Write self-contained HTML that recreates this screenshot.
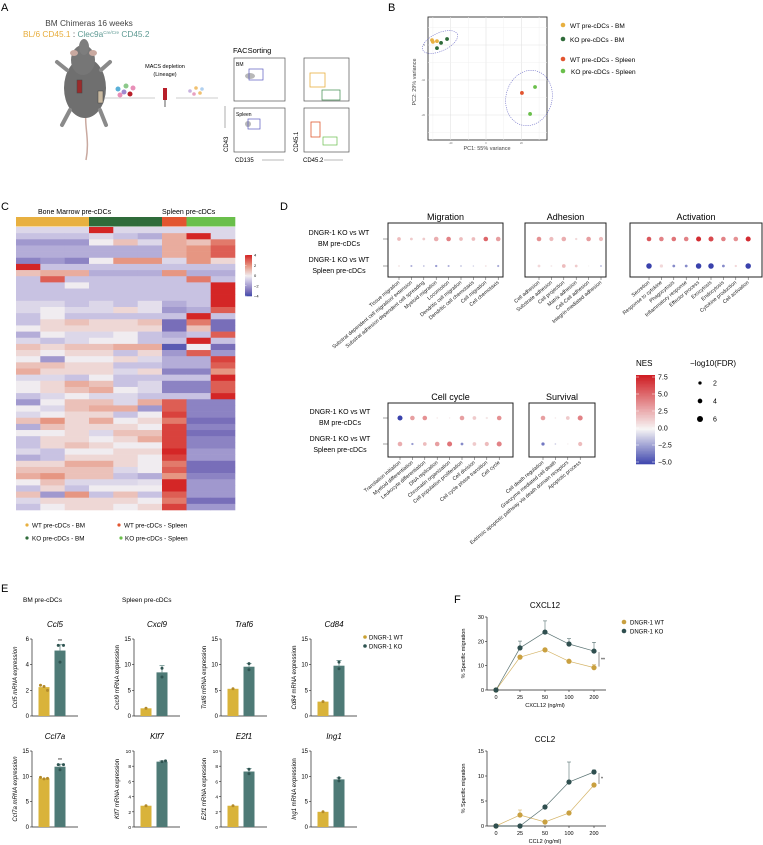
<!DOCTYPE html>
<html><head><meta charset="utf-8"><style>
html,body{margin:0;padding:0;background:#fff}
svg{display:block;font-family:"Liberation Sans",Arial,sans-serif}
</style></head><body>
<svg id="fig" width="763" height="845" viewBox="0 0 763 845" xmlns="http://www.w3.org/2000/svg">
<text x="1" y="11" font-size="11">A</text>
<text x="388" y="11" font-size="11">B</text>
<text x="1" y="210" font-size="11">C</text>
<text x="280" y="210" font-size="11">D</text>
<text x="1" y="592" font-size="11">E</text>
<text x="454" y="603" font-size="11">F</text>

<g>
<text x="89" y="26" font-size="8.3" text-anchor="middle" fill="#444">BM Chimeras 16 weeks</text>
<text x="23" y="37" font-size="8.3"><tspan fill="#e7ad3c">BL/6 CD45.1</tspan><tspan fill="#333"> : </tspan><tspan fill="#5e9a93">Clec9a</tspan><tspan fill="#5e9a93" font-size="4.5" dy="-3">Cre/Cre</tspan><tspan fill="#5e9a93" dy="3"> CD45.2</tspan></text>
<g>
<path d="M86 160 C 90 140, 84 125, 86 112" stroke="#c9a9a0" stroke-width="1.5" fill="none"/>
<ellipse cx="85" cy="88" rx="21" ry="30" fill="#6f6f6f"/>
<ellipse cx="83" cy="60" rx="12" ry="15" fill="#767676"/>
<ellipse cx="84" cy="47" rx="5" ry="8" fill="#7d7d7d"/>
<ellipse cx="74" cy="53" rx="4" ry="3" fill="#c9a9a0"/>
<ellipse cx="93" cy="53" rx="4" ry="3" fill="#c9a9a0"/>
<path d="M67 70 L57 62 M101 70 L110 62 M70 110 L62 125 M100 110 L106 125" stroke="#8a8a8a" stroke-width="4" stroke-linecap="round"/>
<rect x="77" y="80" width="5" height="13" fill="#9a2b2b" stroke="#444" stroke-width="0.5"/>
<rect x="98" y="91" width="5" height="12" fill="#c9b9a0" stroke="#444" stroke-width="0.5"/>
</g>
<g>
<circle cx="118" cy="89" r="2.5" fill="#5ab0d8"/><circle cx="126" cy="86" r="2.5" fill="#8cc98a"/><circle cx="133" cy="88" r="2.5" fill="#e88fb8"/>
<circle cx="120" cy="95" r="2.5" fill="#e88fb8"/><circle cx="124" cy="92" r="2.5" fill="#a08ad0"/><circle cx="130" cy="94" r="2.5" fill="#b81f2a"/>
</g>
<line x1="104" y1="98" x2="155" y2="98" stroke="#999" stroke-width="0.6"/>
<text x="165" y="68" font-size="5.5" text-anchor="middle">MACS depletion</text>
<text x="165" y="76" font-size="5.5" text-anchor="middle">(Lineage)</text>
<rect x="163" y="88" width="4" height="12" fill="#b81f2a"/>
<line x1="165" y1="100" x2="165" y2="107" stroke="#333" stroke-width="0.8"/>
<g>
<circle cx="190" cy="91" r="1.8" fill="#c9b3e0"/><circle cx="196" cy="88" r="1.8" fill="#f0c070"/><circle cx="202" cy="89" r="1.8" fill="#b0d0f0"/><circle cx="194" cy="94" r="1.8" fill="#e8a0c0"/><circle cx="200" cy="93" r="1.8" fill="#f0c070"/>
</g>
<line x1="176" y1="98" x2="218" y2="98" stroke="#999" stroke-width="0.6"/>
<text x="233" y="53" font-size="7.5">FACSorting</text>
<rect x="234" y="58" width="51" height="43" fill="#fff" stroke="#555" stroke-width="0.7"/>
<text x="236" y="66" font-size="5">BM</text>
<ellipse cx="250" cy="76" rx="5" ry="3" fill="#888" opacity="0.6"/>
<rect x="249" y="69" width="14" height="11" fill="none" stroke="#5b5bc0" stroke-width="0.7"/>
<rect x="234" y="108" width="51" height="44" fill="#fff" stroke="#555" stroke-width="0.7"/>
<text x="236" y="116" font-size="5">Spleen</text>
<ellipse cx="248" cy="124" rx="3" ry="3" fill="#888" opacity="0.6"/>
<rect x="248" y="119" width="12" height="10" fill="none" stroke="#5b5bc0" stroke-width="0.7"/>
<rect x="304" y="58" width="45" height="43" fill="#fff" stroke="#555" stroke-width="0.7"/>
<rect x="310" y="73" width="15" height="14" fill="none" stroke="#e8b040" stroke-width="0.8"/>
<rect x="322" y="90" width="18" height="10" fill="none" stroke="#3b8a4a" stroke-width="0.7"/>
<rect x="304" y="108" width="45" height="44" fill="#fff" stroke="#555" stroke-width="0.7"/>
<rect x="311" y="122" width="9" height="15" fill="none" stroke="#e05a30" stroke-width="0.8"/>
<rect x="323" y="137" width="14" height="8" fill="none" stroke="#6abf4b" stroke-width="0.7"/>
<text transform="translate(228,152) rotate(-90)" font-size="6">CD43</text>
<line x1="225" y1="128" x2="225" y2="106" stroke="#777" stroke-width="0.6"/>
<text x="235" y="162" font-size="6">CD135</text>
<line x1="262" y1="160" x2="284" y2="160" stroke="#777" stroke-width="0.6"/>
<text transform="translate(298,152) rotate(-90)" font-size="6">CD45.1</text>
<text x="303" y="162" font-size="6">CD45.2</text>
<line x1="324" y1="160" x2="343" y2="160" stroke="#777" stroke-width="0.6"/>
</g>

<g id="pca"></g>
<g>
<circle cx="563" cy="25" r="2.3" fill="#e8b040"/><text x="570" y="28" font-size="6.5">WT pre-cDCs - BM</text>
<circle cx="563" cy="39" r="2.3" fill="#2f6b3a"/><text x="570" y="42" font-size="6.5">KO pre-cDCs - BM</text>
<circle cx="563" cy="59" r="2.3" fill="#e25530"/><text x="570" y="62" font-size="6.5">WT pre-cDCs - Spleen</text>
<circle cx="563" cy="71" r="2.3" fill="#6abf4b"/><text x="571" y="74" font-size="6.5">KO pre-cDCs - Spleen</text>
</g>

<g id="heat"></g>
<text x="38" y="214" font-size="7">Bone Marrow pre-cDCs</text>
<text x="162" y="214" font-size="7">Spleen pre-cDCs</text>
<g>
<circle cx="27" cy="525" r="1.6" fill="#e8b040"/><text x="32" y="527.5" font-size="6.3">WT pre-cDCs - BM</text>
<circle cx="27" cy="538" r="1.6" fill="#2f6b3a"/><text x="32" y="540.5" font-size="6.3">KO pre-cDCs - BM</text>
<circle cx="119" cy="525" r="1.6" fill="#e25530"/><text x="124" y="527.5" font-size="6.3">WT pre-cDCs - Spleen</text>
<circle cx="121" cy="538" r="1.6" fill="#6abf4b"/><text x="125" y="540.5" font-size="6.3">KO pre-cDCs - Spleen</text>
</g>

<g id="gsea"></g>

<text x="23" y="602" font-size="6.5">BM pre-cDCs</text>
<text x="122" y="602" font-size="6.5">Spleen pre-cDCs</text>
<g id="bars"></g>
<g>
<circle cx="365" cy="637" r="1.8" fill="#c9a030"/><text x="369" y="639.5" font-size="6">DNGR-1 WT</text>
<circle cx="365" cy="646" r="1.8" fill="#2f5451"/><text x="369" y="648.5" font-size="6">DNGR-1 KO</text>
</g>

<g id="lines"></g>
<g>
<circle cx="624" cy="622" r="2.3" fill="#c9a040"/><text x="630" y="624.5" font-size="6">DNGR-1 WT</text>
<circle cx="624" cy="631" r="2.3" fill="#2f4f4f"/><text x="630" y="633.5" font-size="6">DNGR-1 KO</text>
</g>
</svg>
<script>
// ---------- DATA ----------
const pcaGroups = ['WT BM','WT BM','WT BM','KO BM','KO BM','KO BM','WT Spleen','KO Spleen','KO Spleen'];
const pc1Values = [-30.5,-30,-27.7,-25.4,-22,-27.7,20.3,27.7,24.9];
const pc2Values = [1.4,0.9,1.1,0.6,1.7,-0.9,-13.7,-12,-19.7];
const pc1Ticks = [-20,0,20];
const pc2Ticks = [0,-10,-20];
const heatRows = [
[-0.5,-0.5,-0.5,4,-0.5,-0.5,-0.5,-0.5,-0.5],
[-1,-1,-1,-0.5,-1,-1.5,1.5,4,-0.5],
[-2,-2,-2,0,1,-0.5,1.5,1,2.5],
[-1.5,-1.5,-1.5,-1.5,-1.5,-1.5,1.5,2,3],
[-1.5,-1.5,-1.5,-1.5,-1.5,-1.5,1.5,2,3],
[-2.5,-2,-2.5,0,2,2,-0.5,2,0.5],
[4,-1,-1,-1,-1,-1,-1,-1,-1],
[1,1.5,1.5,-1.5,-1.5,-1.5,2,-1.5,-1.5],
[-1,3,-1,-1,-1,-1,-1,2.5,-1],
[-1,-1,0,-1,-1,-1,-1,-1,4],
[-1,-1,-1,-1,-1,-1,-1,-1,4],
[-1,-1,-1,-1,-1,-1,-1,-1,4],
[-0.5,-0.5,-1,-0.5,-1,-0.3,-1.5,-1,4],
[-0.5,0,-0.5,-0.5,0.5,-0.3,-2,-1.5,3],
[-1,0,-1,-1,-1,-1,-1,4,-1],
[-1,0.5,1,0.5,0.5,1,-3,2.5,-3],
[0,0.5,0.5,0.5,0.5,0.5,-3,1,-3],
[-1.5,0,-0.5,-0.5,0,-1,-1.5,-1,3],
[-0.5,-1,-0.5,0,0,-1,-1,4,-1],
[1,0.5,1,1,1.5,1.5,-3.5,0,-3],
[0.5,0,0.5,0.5,-1,0.5,-2,3,-2],
[0,-2,0,0,0.5,-0.5,-1.5,-1.5,3.5],
[1,1,0.5,0.5,-1,-1,-1.5,-1.5,3],
[1.5,0.5,0.5,0.5,-0.5,0.5,-2.5,-2.5,2],
[-0.5,-0.5,-1,0,-1,-1,-1,-1,4],
[0,0.5,1.5,1,-1,-0.5,-2.5,-2.5,3],
[0,0.5,1,1.5,0,-0.5,-2.5,-2.5,3],
[-1,-0.5,0,-0.5,-0.5,-1,-1,-1,4],
[-2,0,1,1,-0.5,1.5,3,-2.5,-2.5],
[0,-0.5,1,1.5,1.5,-2,3,-2.5,-2.5],
[-0.5,0,0.5,0.5,-1,0,3.5,-2.5,-2.5],
[1,2,0.5,1.5,0,0.5,2.5,-3,-3],
[-1.5,1,0.5,0.5,0.5,0,3.5,-2.5,-2.5],
[0,0,0.5,-0.5,1,1,3.5,-3,-3],
[-1,0.5,0.5,0,0.5,1.5,3.5,-2.5,-2.5],
[-1,0.5,1,0.5,0,0,3.5,-2.5,-2.5],
[-0.5,-1,0,0,0.5,0.5,4,-2,-2],
[-1.5,-1,0.5,0.5,0.5,0,3.5,-2,-2],
[0.5,0.5,1.5,1.5,0.5,0,2.5,-3,-3],
[1,1,1,1,-0.5,0,3,-3,-3],
[1.5,2,1,1,-1,-1.5,2,-2.5,-2.5],
[0,1,-0.5,-0.5,-0.5,-0.3,4,-2,-2],
[-1,0.5,-1,0,0,0,4,-2,-2],
[1,-2,2,-1,1,-1,3,-2,-2],
[-0.5,0.5,0.5,0.5,0.5,0,2.5,-3,-3],
[-1,0,0.5,0.5,0,0.5,3.5,-2,-2]
];
const heatSampleGroups = ['WT BM','WT BM','WT BM','KO BM','KO BM','KO BM','WT Spleen','KO Spleen','KO Spleen'];
const heatLegendTicks = [4,2,0,-2,-4];
const migTerms = ['Tissue migration','Substrat dependent cell migration/ extension','Substrat adhesion dependent cell spreading','Myeloid migration','Locomotion','Dendritic cell migration','Dendritic cell chemotaxis','Cell migration','Cell chemotaxis'];
const migNesBM = [2,1.5,1.5,2.5,4,2,2,5,3];
const migFdrBM = [3,2,2,4,4,3,3,4,4];
const migNesSp = [0.5,-2,-1.5,-2.5,-2,-1.5,-1,0.5,-2];
const migFdrSp = [1,1.2,0.8,1.5,1.2,0.8,0.6,1,1.3];
const adhTerms = ['Cell adhesion','Substrate adhesion','Cell projection','Matrix adhesion','Cell-Cell adhesion','Integrin-mediated adhesion'];
const adhNesBM = [3.5,2,2.5,1,3,2];
const adhFdrBM = [4,3.5,4,1.5,4,3.5];
const adhNesSp = [1,0.3,2,1.5,0,-2];
const adhFdrSp = [2,1,3,2,0.5,0.8];
const actTerms = ['Secretion','Response to cytokine','Phagocytosis','Inflammatory response','Effector process','Exocytosis','Endocytosis','Cytokine production','Cell activation'];
const actNesBM = [5.5,4,4.5,4,7,6,4,3.5,7];
const actFdrBM = [4,4,4,4,4.5,4.5,4,4,4.5];
const actNesSp = [-5,1,-3,-3,-5,-5,-3,1,-5];
const actFdrSp = [5,2.5,2,2,5,5,2,1.5,5];
const ccTerms = ['Translation initiation','Myeloid differentiation','Leukocyte differentiation','DNA replication','Chromatin organization','Cell population proliferation','Cell division','Cell cycle phase transition','Cell cycle'];
const ccNesBM = [-5,3,3.5,0.5,0.3,3,1.5,0.5,3.5];
const ccFdrBM = [4.5,4,4,0.5,0.5,4,3,1.5,4];
const ccNesSp = [2.5,-2.5,2,3,4.5,-3,1.5,2,4];
const ccFdrSp = [4,1.5,3,4,4.5,2,3,3.5,4.5];
const survTerms = ['Cell death regulation','Granzyme mediated cell death','Extrinsic apoptotic pathway via death domain receptors','Apoptotic process'];
const survNesBM = [3,0.3,1.5,4];
const survFdrBM = [4,0.7,3,4.5];
const survNesSp = [-3.5,-1,0.2,2];
const survFdrSp = [2.5,0.8,0.5,3.5];
const nesTicks = [7.5,5.0,2.5,0.0,-2.5,-5.0];
const fdrTicks = [2,4,6];
const genes = ['Ccl5','Cxcl9','Traf6','Cd84','Ccl7a','Klf7','E2f1','Ing1'];
const wtMeans = [2.25,1.5,5.3,2.8,9.6,2.8,2.8,3.0];
const koMeans = [5.1,8.5,9.6,9.8,11.9,8.6,7.3,9.4];
const wtPoints = [[2.4,2.3,2.0],[1.5],[5.3],[2.8],[9.8,9.5,9.6],[2.8],[2.8],[3.0]];
const koPoints = [[5.5,5.5,4.2],[9.3,7.6],[10.2,9.0],[10.5,9.2],[12.3,12.3,11.3],[8.6,8.7],[7.6,7.0],[9.7,9.1]];
const koErr = [0.45,1.3,0.6,1.0,0.5,0.1,0.4,0.3];
const yAxisMax = [6,15,15,15,15,10,10,15];
const yTickStep = [2,5,5,5,5,2,2,5];
const sigMarks = ['**','','','','**','','',''];
const doseLabels = ['0','25','50','100','200'];
const cxcl12WT = [0,13.5,16.5,11.8,9.2];
const cxcl12KO = [0,17.3,23.8,18.9,16];
const cxcl12KOErr = [0,2.8,4.6,2.2,3.6];
const cxcl12WTErr = [0,0,0,0,1.2];
const cxcl12Ticks = [0,10,20,30];
const ccl2WT = [0,2.2,0.8,2.6,8.2];
const ccl2KO = [0,0,3.8,8.8,10.8];
const ccl2KOErr = [0,0,0,4.0,0.4];
const ccl2WTErr = [0,1.0,0,0,0];
const ccl2Ticks = [0,5,10,15];

// ---------- HELPERS ----------
const NS='http://www.w3.org/2000/svg';
function mk(tag, attrs, parent){const e=document.createElementNS(NS,tag);for(const k in attrs)e.setAttribute(k,attrs[k]);if(parent)parent.appendChild(e);return e;}
function txt(parent,x,y,s,size,anchor,extra){const e=mk('text',Object.assign({x:x,y:y,'font-size':size,'text-anchor':anchor||'start'},extra||{}),parent);e.textContent=s;return e;}
function lerp(a,b,t){return a.map((v,i)=>Math.round(v+(b[i]-v)*t));}
function rgb(c){return 'rgb('+c.join(',')+')';}
function heatColor(v){
 const t=Math.max(-4,Math.min(4,v));
 if(t>=0){const w=[240,236,240],m=[230,150,130],r=[212,38,38];return t<=2?rgb(lerp(w,m,t/2)):rgb(lerp(m,r,(t-2)/2));}
 const w=[240,236,240],m=[200,194,226],d=[120,110,185],b=[60,70,170];
 const a=-t;
 if(a<=1)return rgb(lerp(w,m,a));
 if(a<=3)return rgb(lerp(m,d,(a-1)/2));
 return rgb(lerp(d,b,a-3));
}
function nesColor(v){const w=[247,245,245],r=[208,30,36],b=[58,66,172];return v>=0?rgb(lerp(w,r,Math.min(1,v/7.5))):rgb(lerp(w,b,Math.min(1,-v/5)));}
function fdrR(f){return 0.5+0.45*f;}

// ---------- PANEL B ----------
(function(){
const g=document.getElementById('pca');
const L=428,R=547,T=17,B=140;
const xS=v=>486+v*1.77, yS=v=>45-v*3.5;
const bg=mk('rect',{x:L,y:T,width:R-L,height:B-T,fill:'#fff',stroke:'#333','stroke-width':0.9},g);


[-30,-10,10,30].forEach(v=>mk('line',{x1:xS(v),x2:xS(v),y1:T,y2:B,stroke:'#f0f0f0','stroke-width':0.5},g));
pc1Ticks.forEach(v=>{mk('line',{x1:xS(v),x2:xS(v),y1:T,y2:B,stroke:'#e2e2e2','stroke-width':0.6},g);
 const t=txt(g,xS(v),B+4,String(v),2.5,'middle',{fill:'#666'});
 
 });
pc2Ticks.forEach(v=>{mk('line',{x1:L,x2:R,y1:yS(v),y2:yS(v),stroke:'#e2e2e2','stroke-width':0.6},g);
 const t=txt(g,L-3,yS(v)+1,String(v),2.5,'end',{fill:'#666'});
 
 });
[5,-5,-15,-25].forEach(v=>mk('line',{x1:L,x2:R,y1:yS(v),y2:yS(v),stroke:'#f0f0f0','stroke-width':0.5},g));
const e1=mk('ellipse',{cx:440,cy:42,rx:19,ry:9,transform:'rotate(-25 440 42)',fill:'none',stroke:'#7070c8','stroke-width':0.6,'stroke-dasharray':'1.2 1'},g);


const e2=mk('ellipse',{cx:529,cy:98,rx:23,ry:28,transform:'rotate(15 529 98)',fill:'none',stroke:'#7070c8','stroke-width':0.6,'stroke-dasharray':'1.2 1'},g);


const col={'WT BM':'#e8b040','KO BM':'#2f6b3a','WT Spleen':'#e25530','KO Spleen':'#6abf4b'};
pc1Values.forEach((v,i)=>{const c=mk('circle',{cx:xS(v),cy:yS(pc2Values[i]),r:1.9,fill:col[pcaGroups[i]]},g);
 
 });
const xl=txt(g,487,150,'PC1: 55% variance',5.5,'middle',{fill:'#444'});


const yl=txt(g,0,0,'PC2: 29% variance',5.5,'middle',{fill:'#444',transform:'translate(416,82) rotate(-90)'});


})();

// ---------- PANEL C ----------
(function(){
const g=document.getElementById('heat');
const colX=[16,40.3,64.7,89,113.3,137.7,162,186.5,210.7,235];
const top=227, bottom=510, rh=(bottom-top)/heatRows.length;
const annCol={'WT BM':'#e8b040','KO BM':'#2f6b3a','WT Spleen':'#e25530','KO Spleen':'#6abf4b'};
heatSampleGroups.forEach((s,j)=>{const r=mk('rect',{x:colX[j],y:217,width:colX[j+1]-colX[j]+0.3,height:9.5,fill:annCol[s]},g);
 
 });
heatRows.forEach((row,i)=>row.forEach((v,j)=>{const r=mk('rect',{x:colX[j],y:top+i*rh,width:colX[j+1]-colX[j]+0.3,height:rh+0.3,fill:heatColor(v)},g);
 
 }));
const lg=mk('g',{},g);


const cT=255,cB=296;
for(let k=0;k<40;k++){const v=4-8*k/40;mk('rect',{x:245,y:cT+k*(cB-cT)/40,width:7,height:(cB-cT)/40+0.3,fill:heatColor(v)},lg);}
heatLegendTicks.forEach(v=>{const y=cT+(4-v)/8*(cB-cT);mk('line',{x1:245,x2:246.5,y1:y,y2:y,stroke:'#fff','stroke-width':0.4},lg);
 const t=txt(lg,254,y+1.5,v<0?'\u2212'+(-v):String(v),4,'start');
 
 });
})();

// ---------- PANEL D ----------
(function(){
const g=document.getElementById('gsea');
function panel(name,title,box,dotsX,terms,nesA,fdrA,nesB,fdrB,rowY){
 const pg=mk('g',{},g);
 
 
 const r=mk('rect',{x:box[0],y:box[1],width:box[2]-box[0],height:box[3]-box[1],fill:'#fff',stroke:'#222','stroke-width':1},pg);
 
 
 const t=txt(pg,(box[0]+box[2])/2,box[1]-3,title,9,'middle');
 
 
 terms.forEach((term,i)=>{const x=dotsX[i];
  mk('line',{x1:x,x2:x,y1:box[3],y2:box[3]+3,stroke:'#444','stroke-width':0.5},pg);
  const l=txt(pg,0,0,term,5.2,'end',{fill:'#222',transform:'translate('+(x+1)+','+(box[3]+6)+') rotate(-40)'});
  
  
  const c1=mk('circle',{cx:x,cy:rowY[0],r:fdrR(fdrA[i]),fill:nesColor(nesA[i])},pg);
  
  
  const c2=mk('circle',{cx:x,cy:rowY[1],r:fdrR(fdrB[i]),fill:nesColor(nesB[i])},pg);
  
  });
}
function idx(n,x0,dx){return Array.from({length:n},(_,i)=>x0+i*dx);}
panel('migration','Migration',[388,223,503,277],idx(9,399,12.4),migTerms,migNesBM,migFdrBM,migNesSp,migFdrSp,[239,266]);
panel('adhesion','Adhesion',[525,223,606,277],idx(6,539,12.4),adhTerms,adhNesBM,adhFdrBM,adhNesSp,adhFdrSp,[239,266]);
panel('activation','Activation',[630,223,762,277],idx(9,649,12.4),actTerms,actNesBM,actFdrBM,actNesSp,actFdrSp,[239,266]);
panel('cell-cycle','Cell cycle',[388,403,513,457],idx(9,400,12.4),ccTerms,ccNesBM,ccFdrBM,ccNesSp,ccFdrSp,[418,444]);
panel('survival','Survival',[529,403,595,457],idx(4,543,12.4),survTerms,survNesBM,survFdrBM,survNesSp,survFdrSp,[418,444]);
function rowLabels(y1,y2,tickY,x){
 [[y1,'DNGR-1 KO vs WT'],[y1+11,'BM pre-cDCs'],[y2,'DNGR-1 KO vs WT'],[y2+11,'Spleen pre-cDCs']].forEach(p=>{const t=txt(g,x,p[0],p[1],7,'middle');
  
  });
 tickY.forEach(y=>mk('line',{x1:383,x2:388,y1:y,y2:y,stroke:'#444','stroke-width':0.5},g));
}
rowLabels(235,262,[239,266],339);
rowLabels(414,441,[418,444],340);
const lg=mk('g',{},g);


txt(lg,636,366,'NES',8,'start');
const cT=375,cB=464;
for(let k=0;k<60;k++){const v=7.5-12.5*k/60;mk('rect',{x:636,y:cT+k*(cB-cT)/60,width:19,height:(cB-cT)/60+0.3,fill:nesColor(v)},lg);}
nesTicks.forEach(v=>{const y=cT+2+(7.5-v)/12.5*(cB-cT-4);mk('line',{x1:636,x2:639,y1:y,y2:y,stroke:'#fff','stroke-width':0.5},lg);mk('line',{x1:652,x2:655,y1:y,y2:y,stroke:'#fff','stroke-width':0.5},lg);
 const t=txt(lg,658,y+2.5,(v<0?'\u2212':'')+Math.abs(v).toFixed(1),7,'start');
 
 });
const sg=mk('g',{},g);


txt(sg,690,366,'\u2212log10(FDR)',8,'start');
fdrTicks.forEach((v,i)=>{const y=383+i*18;mk('circle',{cx:700,cy:y,r:fdrR(v)*0.75+0.6,fill:'#000'},sg);
 const t=txt(sg,713,y+2.5,String(v),7,'start');
 
 });
})();

// ---------- PANEL E ----------
(function(){
const g=document.getElementById('bars');
const axisX=[32,134,221,311,32,134,221,311];
const axTop=[639,639,639,639,751,751,751,751];
const axBot=[716,716,716,716,827,827,827,827];
genes.forEach((gene,i)=>{
 const cg=mk('g',{},g);
 
 
 const x0=axisX[i],yT=axTop[i],yB=axBot[i];
 const y=v=>yB-v/yAxisMax[i]*(yB-yT);
 const t=txt(cg,x0+23,yT-12,gene,8,'middle',{'font-style':'italic'});
 
 
 mk('line',{x1:x0,x2:x0,y1:yT,y2:yB,stroke:'#222','stroke-width':0.7},cg);
 mk('line',{x1:x0,x2:x0+46,y1:yB,y2:yB,stroke:'#222','stroke-width':0.7},cg);
 for(let v=0;v<=yAxisMax[i]+1e-9;v+=yTickStep[i]){mk('line',{x1:x0-2,x2:x0,y1:y(v),y2:y(v),stroke:'#222','stroke-width':0.6},cg);
  const tl=txt(cg,x0-3,y(v)+2,String(v),yAxisMax[i]===10?4.8:6,'end');
  
  }
 const yl=mk('text',{'font-size':6,'text-anchor':'middle',transform:'translate('+(x0-15)+','+((yT+yB)/2)+') rotate(-90)'},cg);
 
 
 const ts=mk('tspan',{'font-style':'italic'},yl);ts.textContent=gene;
 const ts2=mk('tspan',{'font-style':i===0||i===4?'italic':'normal'},yl);ts2.textContent=' mRNA expression';
 const wx=x0+12,kx=x0+28,bw=11;
 const b1=mk('rect',{x:wx-bw/2,y:y(wtMeans[i]),width:bw,height:yB-y(wtMeans[i]),fill:'#d9b33a'},cg);
 
 
 const b2=mk('rect',{x:kx-bw/2,y:y(koMeans[i]),width:bw,height:yB-y(koMeans[i]),fill:'#4e7a76'},cg);
 
 
 const eTop=y(koMeans[i]+koErr[i]);
 mk('line',{x1:kx,x2:kx,y1:y(koMeans[i]),y2:eTop,stroke:'#4e7a76','stroke-width':0.7},cg);
 mk('line',{x1:kx-2.5,x2:kx+2.5,y1:eTop,y2:eTop,stroke:'#4e7a76','stroke-width':0.7},cg);
 wtPoints[i].forEach((v,k)=>{const n=wtPoints[i].length;const dx=n>1?(k-(n-1)/2)*3.5:0;const c=mk('circle',{cx:wx+dx,cy:y(v),r:1.5,fill:'#b38a2a'},cg);
  
  });
 koPoints[i].forEach((v,k)=>{const n=koPoints[i].length;const dx=n>1&&Math.abs(koPoints[i][0]-v)<0.3&&k>0?3.5:(n===3&&k<2?(k-0.5)*3.5:0);const c=mk('circle',{cx:kx+dx,cy:y(v),r:1.5,fill:'#2f5451'},cg);
  
  });
 if(sigMarks[i]){const s=txt(cg,kx,eTop-2,sigMarks[i],5,'middle');
  
  }
});
})();

// ---------- PANEL F ----------
(function(){
const g=document.getElementById('lines');
function chart(name,title,xlab,wt,ko,wtErr,koErr,ticks,yT,yB,sig){
 const cg=mk('g',{},g);
 
 
 const x0=487,x1=606,max=ticks[ticks.length-1];
 const y=v=>yB-v/max*(yB-yT);
 const xs=[496,520,545,569,594];
 const t=txt(cg,545,yT-9,title,8,'middle');
 
 
 mk('line',{x1:x0,x2:x0,y1:yT,y2:yB,stroke:'#222','stroke-width':0.7},cg);
 mk('line',{x1:x0,x2:x1,y1:yB,y2:yB,stroke:'#222','stroke-width':0.7},cg);
 ticks.forEach(v=>{mk('line',{x1:x0-2,x2:x0,y1:y(v),y2:y(v),stroke:'#222','stroke-width':0.6},cg);
  const tl=txt(cg,x0-3,y(v)+2,String(v),5.5,'end');
  
  });
 doseLabels.forEach((d,i)=>{mk('line',{x1:xs[i],x2:xs[i],y1:yB,y2:yB+2,stroke:'#222','stroke-width':0.6},cg);
  const tl=txt(cg,xs[i],yB+9,d,5.5,'middle');
  
  });
 const xl=txt(cg,545,yB+17,xlab,5.5,'middle');
 
 
 const yl=txt(cg,0,0,'% Specific migration',5.5,'middle',{transform:'translate(465,'+((yT+yB)/2)+') rotate(-90)'});
 
 
 [[wt,wtErr,'#c9a040','wt'],[ko,koErr,'#2f4f4f','ko']].forEach(s=>{
  const vals=s[0],err=s[1],c=s[2];
  vals.forEach((v,i)=>{if(err[i]>0){const ey=y(v+err[i]);mk('line',{x1:xs[i],x2:xs[i],y1:y(v),y2:ey,stroke:c,'stroke-width':0.6,opacity:0.8},cg);mk('line',{x1:xs[i]-2,x2:xs[i]+2,y1:ey,y2:ey,stroke:c,'stroke-width':0.6,opacity:0.8},cg);}});
  const p=mk('polyline',{points:vals.map((v,i)=>xs[i]+','+y(v)).join(' '),fill:'none',stroke:c,'stroke-width':0.7,opacity:0.8},cg);
  
  
  vals.forEach((v,i)=>{const d=mk('circle',{cx:xs[i],cy:y(v),r:2.6,fill:c},cg);
   
   });
 });
 const last=wt.length-1;
 const by1=y(ko[last])+1,by2=y(wt[last])-1;
 mk('line',{x1:599,x2:599,y1:by1,y2:by2,stroke:'#222','stroke-width':0.5},cg);
 const s=txt(cg,601,(by1+by2)/2+2,sig,5,'start');
 
 
}
chart('cxcl12','CXCL12','CXCL12 (ng/ml)',cxcl12WT,cxcl12KO,cxcl12WTErr,cxcl12KOErr,cxcl12Ticks,617,690,'**');
chart('ccl2','CCL2','CCL2 (ng/ml)',ccl2WT,ccl2KO,ccl2WTErr,ccl2KOErr,ccl2Ticks,751,826,'*');
})();
</script>
</body></html>
